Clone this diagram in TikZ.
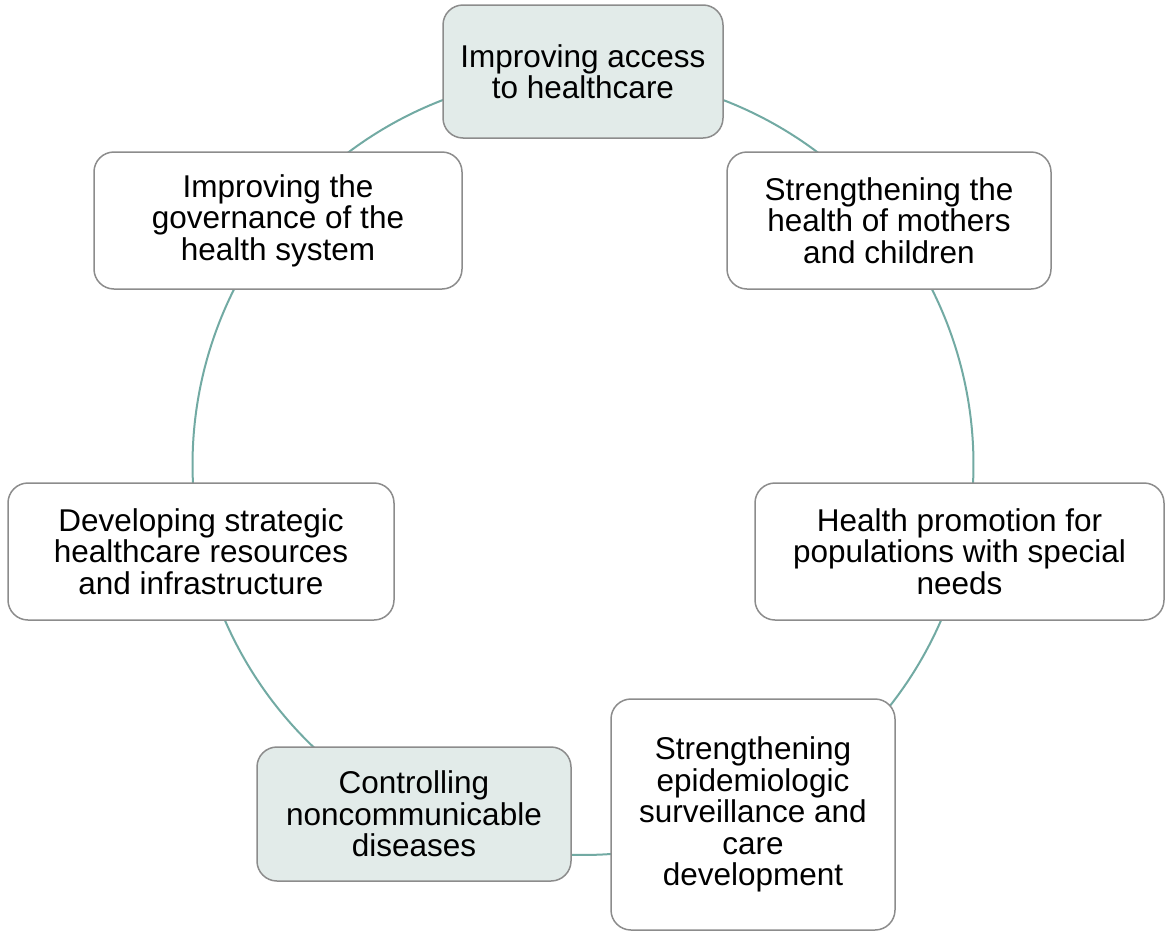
\documentclass[tikz,border=0pt]{standalone}
\usepackage{fontspec}
\setmainfont{Liberation Sans}
\usetikzlibrary{calc}
\definecolor{ringcol}{HTML}{72AAA3}
\definecolor{boxline}{HTML}{8C8C8C}
\definecolor{boxfill}{HTML}{E2EBE9}
\begin{document}
\begin{tikzpicture}[x=1pt,y=1pt,
  ring/.style={draw=ringcol,line width=2pt},
  stepbox/.style={draw=boxline,line width=1.5pt,fill=white,rounded corners=20pt,
    inner sep=0pt,align=center,font=\fontsize{31.5}{31.5}\selectfont},
  keybox/.style={stepbox,fill=boxfill}]
\useasboundingbox (0,0) rectangle (1165,-932);
\coordinate (c) at (583,-464.5);
% ring arcs (drawn first, boxes cover their ends)
\foreach \a/\b in {71/51, 109/129, 28.6/-4.7, -21.4/-38.7, -83.9/-93.8, 228.4/201.5, 184.7/151.6}{
  \draw[ring] ($(c)+(\a:390.5)$) arc[start angle=\a, end angle=\b, radius=390.5];
}
\node[keybox,minimum width=280,minimum height=133] (n1) at (583,-71.5)
  {Improving access\\to healthcare};
\node[stepbox,minimum width=324,minimum height=137] (n2) at (889,-220.5)
  {Strengthening the\\health of mothers\\and children};
\node[stepbox,minimum width=409,minimum height=137] (n3) at (959.5,-551.5)
  {Health promotion for\\populations with special\\needs};
\node[stepbox,minimum width=284,minimum height=231] (n4) at (753,-814.5)
  {Strengthening\\epidemiologic\\surveillance and\\care\\development};
\node[keybox,minimum width=314,minimum height=134] (n5) at (414,-814)
  {Controlling\\noncommunicable\\diseases};
\node[stepbox,minimum width=386,minimum height=137] (n6) at (201,-551.5)
  {Developing strategic\\healthcare resources\\and infrastructure};
\node[stepbox,minimum width=368,minimum height=137] (n7) at (278,-220.5)
  {Improving the\\governance of the\\health system};
\end{tikzpicture}
\end{document}
